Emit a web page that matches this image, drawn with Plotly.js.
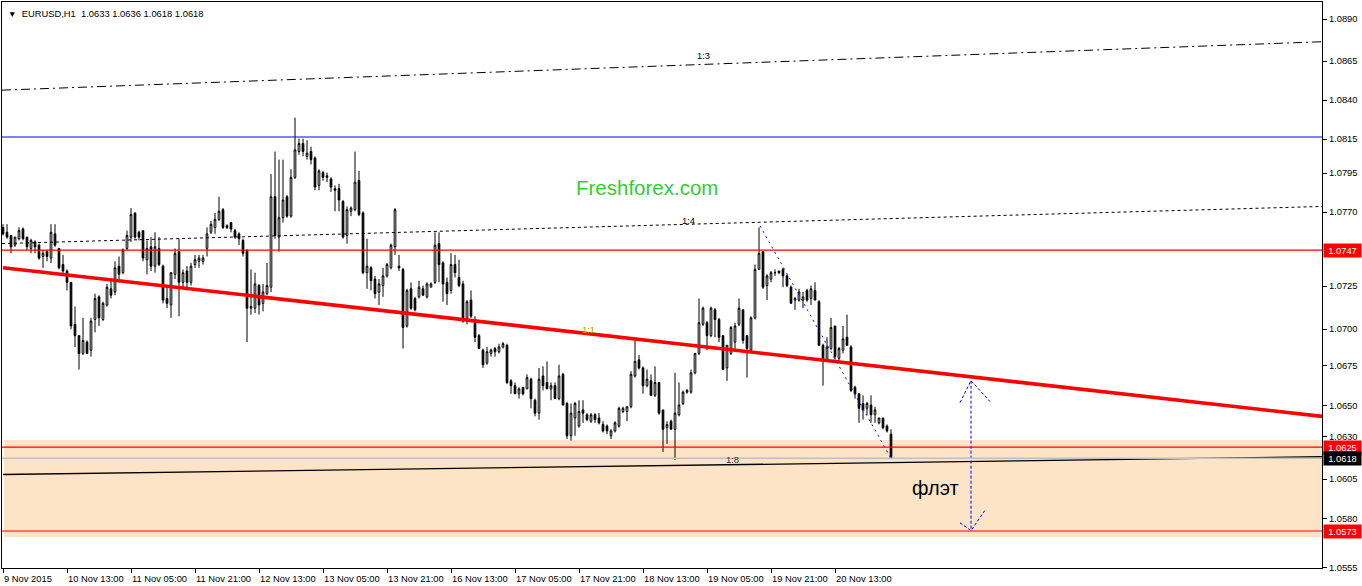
<!DOCTYPE html>
<html>
<head>
<meta charset="utf-8">
<script src="https://cdn.plot.ly/plotly-3.0.1.min.js"></script>
<style>html,body{margin:0;padding:0;background:#fff;}#chart{width:1362px;height:586px;}</style>
</head>
<body>
<div id="chart"></div>
<script>
// ---- DATA (EURUSD H1, bar index 0 = 9 Nov 2015 21:00) ----
const barOpen = [1.0761,1.0758,1.0756,1.0750,1.0754,1.0760,1.0755,1.0748,1.0752,1.0750,1.0743,1.0746,1.0742,1.0757,1.0748,1.0738,1.0734,1.0727,1.0701,1.0694,
1.0683,1.0690,1.0685,1.0704,1.0718,1.0704,1.0713,1.0723,1.0721,1.0737,1.0733,1.0748,1.0755,1.0770,1.0758,1.0759,1.0741,1.0749,1.0737,1.0748,
1.0737,1.0717,1.0713,1.0732,1.0746,1.0727,1.0734,1.0727,1.0738,1.0740,1.0740,1.0748,1.0758,1.0761,1.0766,1.0772,1.0762,1.0764,1.0759,1.0757,
1.0753,1.0747,1.0711,1.0711,1.0725,1.0714,1.0720,1.0724,1.0780,1.0755,1.0767,1.0780,1.0768,1.0792,1.0808,1.0813,1.0805,1.0808,1.0804,1.0787,
1.0795,1.0792,1.0791,1.0785,1.0785,1.0777,1.0756,1.0771,1.0772,1.0790,1.0770,1.0733,1.0736,1.0729,1.0721,1.0725,1.0731,1.0736,1.0749,1.0737,
1.0735,1.0700,1.0723,1.0717,1.0718,1.0723,1.0718,1.0724,1.0727,1.0751,1.0739,1.0727,1.0722,1.0738,1.0730,1.0726,1.0704,1.0716,1.0704,1.0694,
1.0685,1.0677,1.0683,1.0686,1.0684,1.0687,1.0688,1.0666,1.0663,1.0658,1.0662,1.0661,1.0667,1.0654,1.0646,1.0669,1.0665,1.0661,1.0663,1.0655,
1.0670,1.0652,1.0632,1.0643,1.0638,1.0648,1.0645,1.0641,1.0645,1.0643,1.0639,1.0638,1.0632,1.0635,1.0638,1.0647,1.0647,1.0650,1.0669,1.0679,
1.0674,1.0663,1.0666,1.0657,1.0665,1.0648,1.0637,1.0641,1.0636,1.0645,1.0652,1.0659,1.0659,1.0671,1.0683,1.0701,1.0702,1.0694,1.0710,1.0704,
1.0694,1.0674,1.0683,1.0690,1.0701,1.0710,1.0694,1.0685,1.0705,1.0735,1.0746,1.0725,1.0729,1.0733,1.0734,1.0735,1.0731,1.0724,1.0716,1.0716,
1.0716,1.0722,1.0717,1.0722,1.0715,1.0688,1.0679,1.0686,1.0700,1.0680,1.0685,1.0693,1.0687,1.0662,1.0658,1.0652,1.0649,1.0651,1.0645,1.0640,
1.0643,1.0638,1.0633];
const barHigh = [1.0763,1.0763,1.0756,1.0755,1.0761,1.0761,1.0755,1.0754,1.0753,1.0751,1.0747,1.0747,1.0763,1.0763,1.0748,1.0744,1.0735,1.0727,1.0712,1.0694,
1.0705,1.0691,1.0705,1.0720,1.0719,1.0715,1.0726,1.0728,1.0740,1.0743,1.0748,1.0759,1.0773,1.0770,1.0759,1.0759,1.0753,1.0755,1.0758,1.0755,
1.0738,1.0724,1.0733,1.0748,1.0754,1.0735,1.0737,1.0739,1.0744,1.0744,1.0744,1.0761,1.0765,1.0770,1.0780,1.0773,1.0763,1.0764,1.0760,1.0758,
1.0754,1.0747,1.0735,1.0733,1.0726,1.0726,1.0739,1.0794,1.0808,1.0803,1.0803,1.0781,1.0797,1.0829,1.0816,1.0816,1.0815,1.0811,1.0805,1.0797,
1.0796,1.0795,1.0792,1.0787,1.0788,1.0778,1.0774,1.0774,1.0808,1.0796,1.0771,1.0754,1.0737,1.0731,1.0729,1.0736,1.0739,1.0751,1.0773,1.0744,
1.0736,1.0723,1.0727,1.0718,1.0728,1.0725,1.0727,1.0727,1.0758,1.0758,1.0740,1.0730,1.0745,1.0744,1.0741,1.0728,1.0716,1.0722,1.0706,1.0695,
1.0686,1.0687,1.0686,1.0687,1.0689,1.0690,1.0689,1.0667,1.0665,1.0662,1.0662,1.0670,1.0668,1.0655,1.0674,1.0675,1.0678,1.0665,1.0665,1.0676,
1.0671,1.0653,1.0652,1.0653,1.0654,1.0654,1.0646,1.0646,1.0646,1.0646,1.0641,1.0639,1.0636,1.0641,1.0650,1.0650,1.0650,1.0672,1.0692,1.0682,
1.0675,1.0673,1.0670,1.0675,1.0665,1.0648,1.0641,1.0642,1.0671,1.0665,1.0660,1.0661,1.0673,1.0683,1.0717,1.0712,1.0703,1.0712,1.0711,1.0705,
1.0694,1.0688,1.0700,1.0702,1.0717,1.0710,1.0694,1.0706,1.0738,1.0761,1.0746,1.0732,1.0734,1.0735,1.0734,1.0736,1.0732,1.0725,1.0718,1.0723,
1.0721,1.0723,1.0725,1.0727,1.0716,1.0689,1.0693,1.0705,1.0700,1.0687,1.0700,1.0707,1.0688,1.0663,1.0658,1.0657,1.0653,1.0657,1.0650,1.0643,
1.0643,1.0639,1.0636];
const barLow = [1.0756,1.0754,1.0745,1.0749,1.0753,1.0753,1.0747,1.0745,1.0745,1.0741,1.0736,1.0740,1.0739,1.0749,1.0735,1.0731,1.0722,1.0698,1.0687,1.0673,
1.0682,1.0683,1.0681,1.0696,1.0700,1.0703,1.0712,1.0717,1.0719,1.0728,1.0732,1.0747,1.0752,1.0754,1.0753,1.0740,1.0732,1.0734,1.0733,1.0737,
1.0714,1.0711,1.0705,1.0729,1.0706,1.0724,1.0722,1.0725,1.0736,1.0736,1.0738,1.0743,1.0757,1.0757,1.0765,1.0760,1.0760,1.0758,1.0754,1.0750,
1.0743,1.0690,1.0707,1.0708,1.0707,1.0709,1.0719,1.0721,1.0754,1.0746,1.0764,1.0767,1.0767,1.0791,1.0806,1.0805,1.0803,1.0800,1.0784,1.0784,
1.0790,1.0789,1.0783,1.0771,1.0771,1.0754,1.0751,1.0768,1.0771,1.0768,1.0732,1.0723,1.0722,1.0717,1.0713,1.0718,1.0730,1.0735,1.0744,1.0734,
1.0686,1.0699,1.0710,1.0709,1.0717,1.0719,1.0717,1.0724,1.0726,1.0727,1.0715,1.0713,1.0720,1.0730,1.0724,1.0702,1.0701,1.0705,1.0690,1.0686,
1.0674,1.0676,1.0681,1.0681,1.0683,1.0686,1.0664,1.0658,1.0658,1.0655,1.0657,1.0661,1.0649,1.0644,1.0642,1.0660,1.0661,1.0654,1.0655,1.0654,
1.0651,1.0630,1.0629,1.0632,1.0637,1.0640,1.0641,1.0640,1.0640,1.0639,1.0634,1.0633,1.0630,1.0634,1.0637,1.0646,1.0641,1.0649,1.0668,1.0673,
1.0658,1.0662,1.0657,1.0656,1.0645,1.0622,1.0627,1.0636,1.0617,1.0644,1.0651,1.0658,1.0658,1.0670,1.0682,1.0700,1.0685,1.0693,1.0693,1.0690,
1.0673,1.0666,1.0682,1.0684,1.0700,1.0689,1.0668,1.0683,1.0704,1.0735,1.0723,1.0716,1.0727,1.0731,1.0732,1.0724,1.0724,1.0714,1.0710,1.0715,
1.0711,1.0715,1.0713,1.0716,1.0688,1.0663,1.0678,1.0685,1.0679,1.0677,1.0683,1.0688,1.0659,1.0655,1.0640,1.0642,1.0645,1.0640,1.0640,1.0639,
1.0636,1.0634,1.0618];
const barClose = [1.0757,1.0755,1.0749,1.0755,1.0759,1.0754,1.0749,1.0753,1.0749,1.0742,1.0745,1.0743,1.0758,1.0750,1.0736,1.0734,1.0727,1.0700,1.0694,1.0683,
1.0691,1.0683,1.0703,1.0717,1.0705,1.0714,1.0724,1.0719,1.0736,1.0732,1.0747,1.0756,1.0769,1.0755,1.0755,1.0742,1.0748,1.0737,1.0749,1.0738,
1.0716,1.0714,1.0733,1.0745,1.0727,1.0733,1.0727,1.0737,1.0741,1.0742,1.0742,1.0757,1.0763,1.0766,1.0771,1.0761,1.0761,1.0760,1.0755,1.0754,
1.0745,1.0711,1.0712,1.0726,1.0713,1.0721,1.0725,1.0780,1.0756,1.0767,1.0778,1.0768,1.0792,1.0809,1.0813,1.0808,1.0807,1.0803,1.0786,1.0796,
1.0792,1.0793,1.0786,1.0784,1.0778,1.0755,1.0772,1.0773,1.0789,1.0769,1.0733,1.0737,1.0728,1.0720,1.0726,1.0731,1.0738,1.0750,1.0772,1.0736,
1.0699,1.0722,1.0711,1.0710,1.0724,1.0719,1.0726,1.0726,1.0750,1.0738,1.0726,1.0720,1.0738,1.0733,1.0725,1.0703,1.0715,1.0706,1.0693,1.0686,
1.0676,1.0684,1.0685,1.0684,1.0687,1.0689,1.0665,1.0663,1.0658,1.0661,1.0658,1.0668,1.0655,1.0646,1.0667,1.0663,1.0661,1.0663,1.0655,1.0669,
1.0651,1.0632,1.0646,1.0652,1.0647,1.0646,1.0642,1.0645,1.0642,1.0640,1.0635,1.0635,1.0635,1.0640,1.0649,1.0649,1.0650,1.0670,1.0678,1.0674,
1.0663,1.0667,1.0657,1.0665,1.0646,1.0636,1.0639,1.0636,1.0646,1.0651,1.0659,1.0660,1.0671,1.0683,1.0702,1.0711,1.0694,1.0711,1.0704,1.0693,
1.0673,1.0688,1.0699,1.0700,1.0711,1.0691,1.0686,1.0705,1.0735,1.0745,1.0724,1.0731,1.0733,1.0733,1.0733,1.0731,1.0725,1.0714,1.0717,1.0721,
1.0718,1.0716,1.0723,1.0716,1.0688,1.0678,1.0687,1.0699,1.0681,1.0686,1.0692,1.0688,1.0660,1.0658,1.0649,1.0648,1.0652,1.0645,1.0648,1.0643,
1.0637,1.0635,1.0618];

const xTickIdx  = [0,16,32,48,64,80,96,112,128,144,160,176,192,208];
const xTickText = ["9 Nov 2015","10 Nov 13:00","11 Nov 05:00","11 Nov 21:00","12 Nov 13:00","13 Nov 05:00","13 Nov 21:00",
                   "16 Nov 13:00","17 Nov 05:00","17 Nov 21:00","18 Nov 13:00","19 Nov 05:00","19 Nov 21:00","20 Nov 13:00"];
const yTickVals = [1.08900,1.08640,1.08399,1.08157,1.07947,1.07705,1.07247,1.06981,1.06752,1.06506,1.06314,1.06052,1.05806,1.05503];
const yTickText = ["1.0890","1.0865","1.0840","1.0815","1.0795","1.0770","1.0725","1.0700","1.0675","1.0650","1.0630","1.0605","1.0580","1.0555"];

// horizontal levels
const blueLevel = [1.0817];
const redLevels = [1.0747, 1.0625, 1.0573];
const bidLevel  = [1.0618];
const flatZone  = [1.05693, 1.06294];   // bottom, top of the range box

// trend / fan lines (bar index, price)
const fanX     = [-0.25, 329.75];
const fan13Y   = [1.0846, 1.0876];
const fan14Y   = [1.0751, 1.0774];
const fan11X   = [0, 329.75];
const fan11Y   = [1.0736, 1.0644];
const fan18X   = [0, 329.75];
const fan18Y   = [1.0608, 1.0619];
const dropX    = [189.25, 222];
const dropY    = [1.0762, 1.0618];
const arrowX   = [242, 242];
const arrowY   = [1.06661, 1.05732];
const headTopX = [239.25, 242, 247];
const headTopY = [1.06525, 1.06661, 1.06525];
const headBotX = [239.25, 242, 245.7];
const headBotY = [1.05781, 1.05732, 1.05866];

// price tags on the right scale
const tagPrices = [1.0747, 1.0625, 1.0618, 1.0573];
const tagTexts  = ["1.0747", "1.0625", "1.0618", "1.0573"];

// ---- CHART ----
const idx = barOpen.map((_, i) => i);
const FONT = "Liberation Sans, Arial, sans-serif";

const traces = [
  {type:"candlestick", x:idx, open:barOpen, high:barHigh, low:barLow, close:barClose,
   whiskerwidth:0, hoverinfo:"skip",
   increasing:{line:{color:"#000", width:1}, fillcolor:"#ffffff"},
   decreasing:{line:{color:"#000", width:1}, fillcolor:"#000000"}},
  {type:"scatter", mode:"lines", x:fanX, y:fan13Y, line:{color:"#000", width:1, dash:"9px,4px,2px,4px"}, hoverinfo:"skip"},
  {type:"scatter", mode:"lines", x:fanX, y:fan14Y, line:{color:"#000", width:1, dash:"3px,3px"}, hoverinfo:"skip"},
  {type:"scatter", mode:"lines", x:fan18X, y:fan18Y, line:{color:"#000", width:1.3}, hoverinfo:"skip"},
  {type:"scatter", mode:"lines", x:fan11X, y:fan11Y, line:{color:"#ff0000", width:3.6}, hoverinfo:"skip"},
  {type:"scatter", mode:"lines", x:dropX, y:dropY, line:{color:"#0000ff", width:1, dash:"2px,4px"}, hoverinfo:"skip"},
  {type:"scatter", mode:"lines", x:arrowX, y:arrowY, line:{color:"#0000ff", width:1, dash:"3px,2px"}, hoverinfo:"skip"},
  {type:"scatter", mode:"lines", x:headTopX, y:headTopY, line:{color:"#0000ff", width:1, dash:"3px,2px"}, hoverinfo:"skip"},
  {type:"scatter", mode:"lines", x:headBotX, y:headBotY, line:{color:"#0000ff", width:1, dash:"3px,2px"}, hoverinfo:"skip"}
];

const shapes = [
  {type:"rect", xref:"x", yref:"y", x0:0.25, x1:329.75, y0:flatZone[0], y1:flatZone[1],
   fillcolor:"#fde4c6", line:{width:0}, layer:"below"},
  {type:"line", xref:"paper", yref:"y", x0:0, x1:1, y0:blueLevel[0], y1:blueLevel[0], line:{color:"#0000ff", width:1}},
  {type:"line", xref:"paper", yref:"y", x0:0, x1:1, y0:bidLevel[0], y1:bidLevel[0], line:{color:"#c0c0c0", width:1.5}}
];
redLevels.forEach(p => shapes.push({type:"line", xref:"paper", yref:"y", x0:0, x1:1, y0:p, y1:p, line:{color:"#ff0000", width:1.2}}));

const annotations = [
  {xref:"paper", yref:"paper", x:0, y:1, xanchor:"left", yanchor:"top", xshift:4, yshift:-4, showarrow:false,
   text:"<span style='font-size:8.5px'>▼</span>  EURUSD,H1&nbsp; 1.0633 1.0636 1.0618 1.0618", font:{family:FONT, size:9.4, color:"#000"}},
  {xref:"paper", yref:"paper", x:0.4886, y:0.6714, xanchor:"center", yanchor:"middle", showarrow:false,
   text:"Freshforex.com", font:{family:FONT, size:20.5, color:"#32cd32"}},
  {xref:"x", yref:"y", x:175, y:1.08677, showarrow:false, text:"1:3", font:{family:FONT, size:9.4, color:"#000"}},
  {xref:"x", yref:"y", x:171.25, y:1.0765, showarrow:false, text:"1:4", font:{family:FONT, size:9.4, color:"#000"}},
  {xref:"x", yref:"y", x:146.25, y:1.06975, showarrow:false, text:"1:1", font:{family:FONT, size:9.4, color:"#a8a000"}},
  {xref:"x", yref:"y", x:182.25, y:1.06176, showarrow:false, text:"1:8", font:{family:FONT, size:9.4, color:"#333"}},
  {xref:"x", yref:"y", x:233, y:1.05996, showarrow:false, text:"флэт", font:{family:FONT, size:20, color:"#000"}}
];
xTickIdx.forEach((v, k) => annotations.push({xref:"x", yref:"paper", x:v, y:0, xanchor:"left", yanchor:"top",
  xshift:-1, yshift:-3, showarrow:false, text:xTickText[k], font:{family:FONT, size:9.4, color:"#000"}}));
tagPrices.forEach((p, k) => annotations.push({xref:"paper", yref:"y", x:1, y:p, xanchor:"left", yanchor:"middle",
  xshift:1, showarrow:false, text:tagTexts[k], width:35, height:11, align:"center",
  bgcolor:(k === 2 ? "#000000" : "#ff0000"), font:{family:FONT, size:9.4, color:"#ffffff"}}));

const layout = {
  width:1362, height:586,
  margin:{l:2, r:40, t:2, b:18},
  paper_bgcolor:"#ffffff", plot_bgcolor:"#ffffff",
  showlegend:false, boxgap:0.4, dragmode:false,
  xaxis:{type:"linear", range:[-0.25, 329.75], showgrid:false, zeroline:false,
         showline:true, linecolor:"#000", linewidth:1, mirror:true,
         tickmode:"array", tickvals:xTickIdx, ticktext:xTickIdx.map(() => ""),
         ticks:"outside", ticklen:4, tickcolor:"#000", showticklabels:false,
         rangeslider:{visible:false}, fixedrange:true},
  yaxis:{range:[1.05501, 1.09006], side:"right", showgrid:false, zeroline:false,
         showline:true, linecolor:"#000", linewidth:1, mirror:true,
         tickmode:"array", tickvals:yTickVals, ticktext:yTickText,
         ticks:"outside", ticklen:4, tickcolor:"#000",
         tickfont:{family:FONT, size:9.4, color:"#000"}, fixedrange:true},
  shapes:shapes, annotations:annotations
};

Plotly.newPlot("chart", traces, layout, {displayModeBar:false, staticPlot:true});
</script>
</body>
</html>
